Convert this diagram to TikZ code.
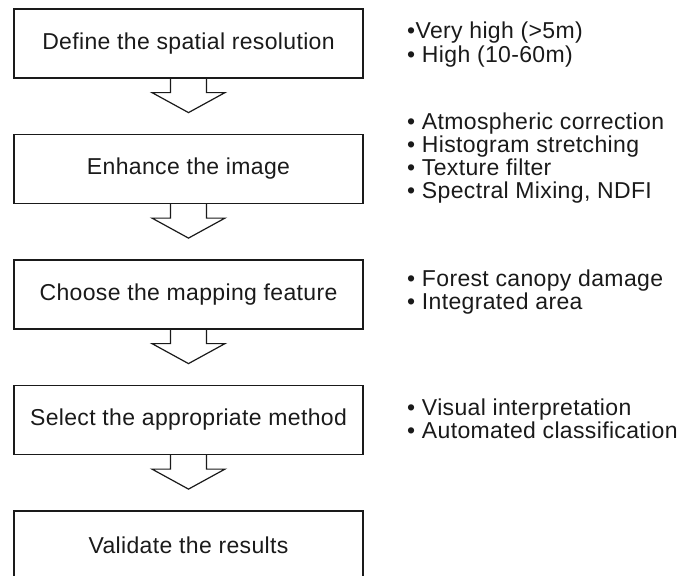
\documentclass[tikz,border=0pt]{standalone}
\usepackage{fontspec}
\setmainfont[LetterSpace=1.5]{Liberation Sans}
\usetikzlibrary{calc}
\definecolor{inkgray}{HTML}{1A1A1A}
\begin{document}
\begin{tikzpicture}[x=1pt,y=-1pt,
  stepbox/.style={draw=inkgray, line width=1.2pt, minimum width=349pt, minimum height=69pt,
    inner sep=0pt, text=inkgray, font=\fontsize{23}{24}\selectfont},
  notes/.style={anchor=west, align=left, inner sep=0pt, text=inkgray,
    font=\fontsize{23}{23.3}\selectfont},
  blockarrow/.style={draw=inkgray, line width=1.2pt, line join=miter}]
\useasboundingbox (0,0) rectangle (686,576);
\clip (0,0) rectangle (686,576);
\node[stepbox] (b1) at (188.5,43.5) {Define the spatial resolution};
\node[stepbox] (b2) at (188.5,169) {Enhance the image};
\node[stepbox] (b3) at (188.5,294.5) {Choose the mapping feature};
\node[stepbox] (b4) at (188.5,420) {Select the appropriate method};
\node[stepbox] (b5) at (188.5,545.5) {Validate the results};
\foreach \b in {b1,b2,b3,b4}{
  \draw[blockarrow] (\b.south) ++(-18,0) -- ++(0,14) -- ++(-18.5,0) -- ++(36.5,20)
    -- ++(36.5,-20) -- ++(-18.5,0) -- ++(0,-14);
}
\node[notes] (n1) at (407,44.5) {•Very high (>5m)\\• High (10-60m)};
\node[notes] (n2) at (407,158) {• Atmospheric correction\\• Histogram stretching\\• Texture filter\\• Spectral Mixing, NDFI};
\node[notes] (n3) at (407,292) {• Forest canopy damage\\• Integrated area};
\node[notes] (n4) at (407,419) {• Visual interpretation\\• Automated classification};
\end{tikzpicture}
\end{document}
